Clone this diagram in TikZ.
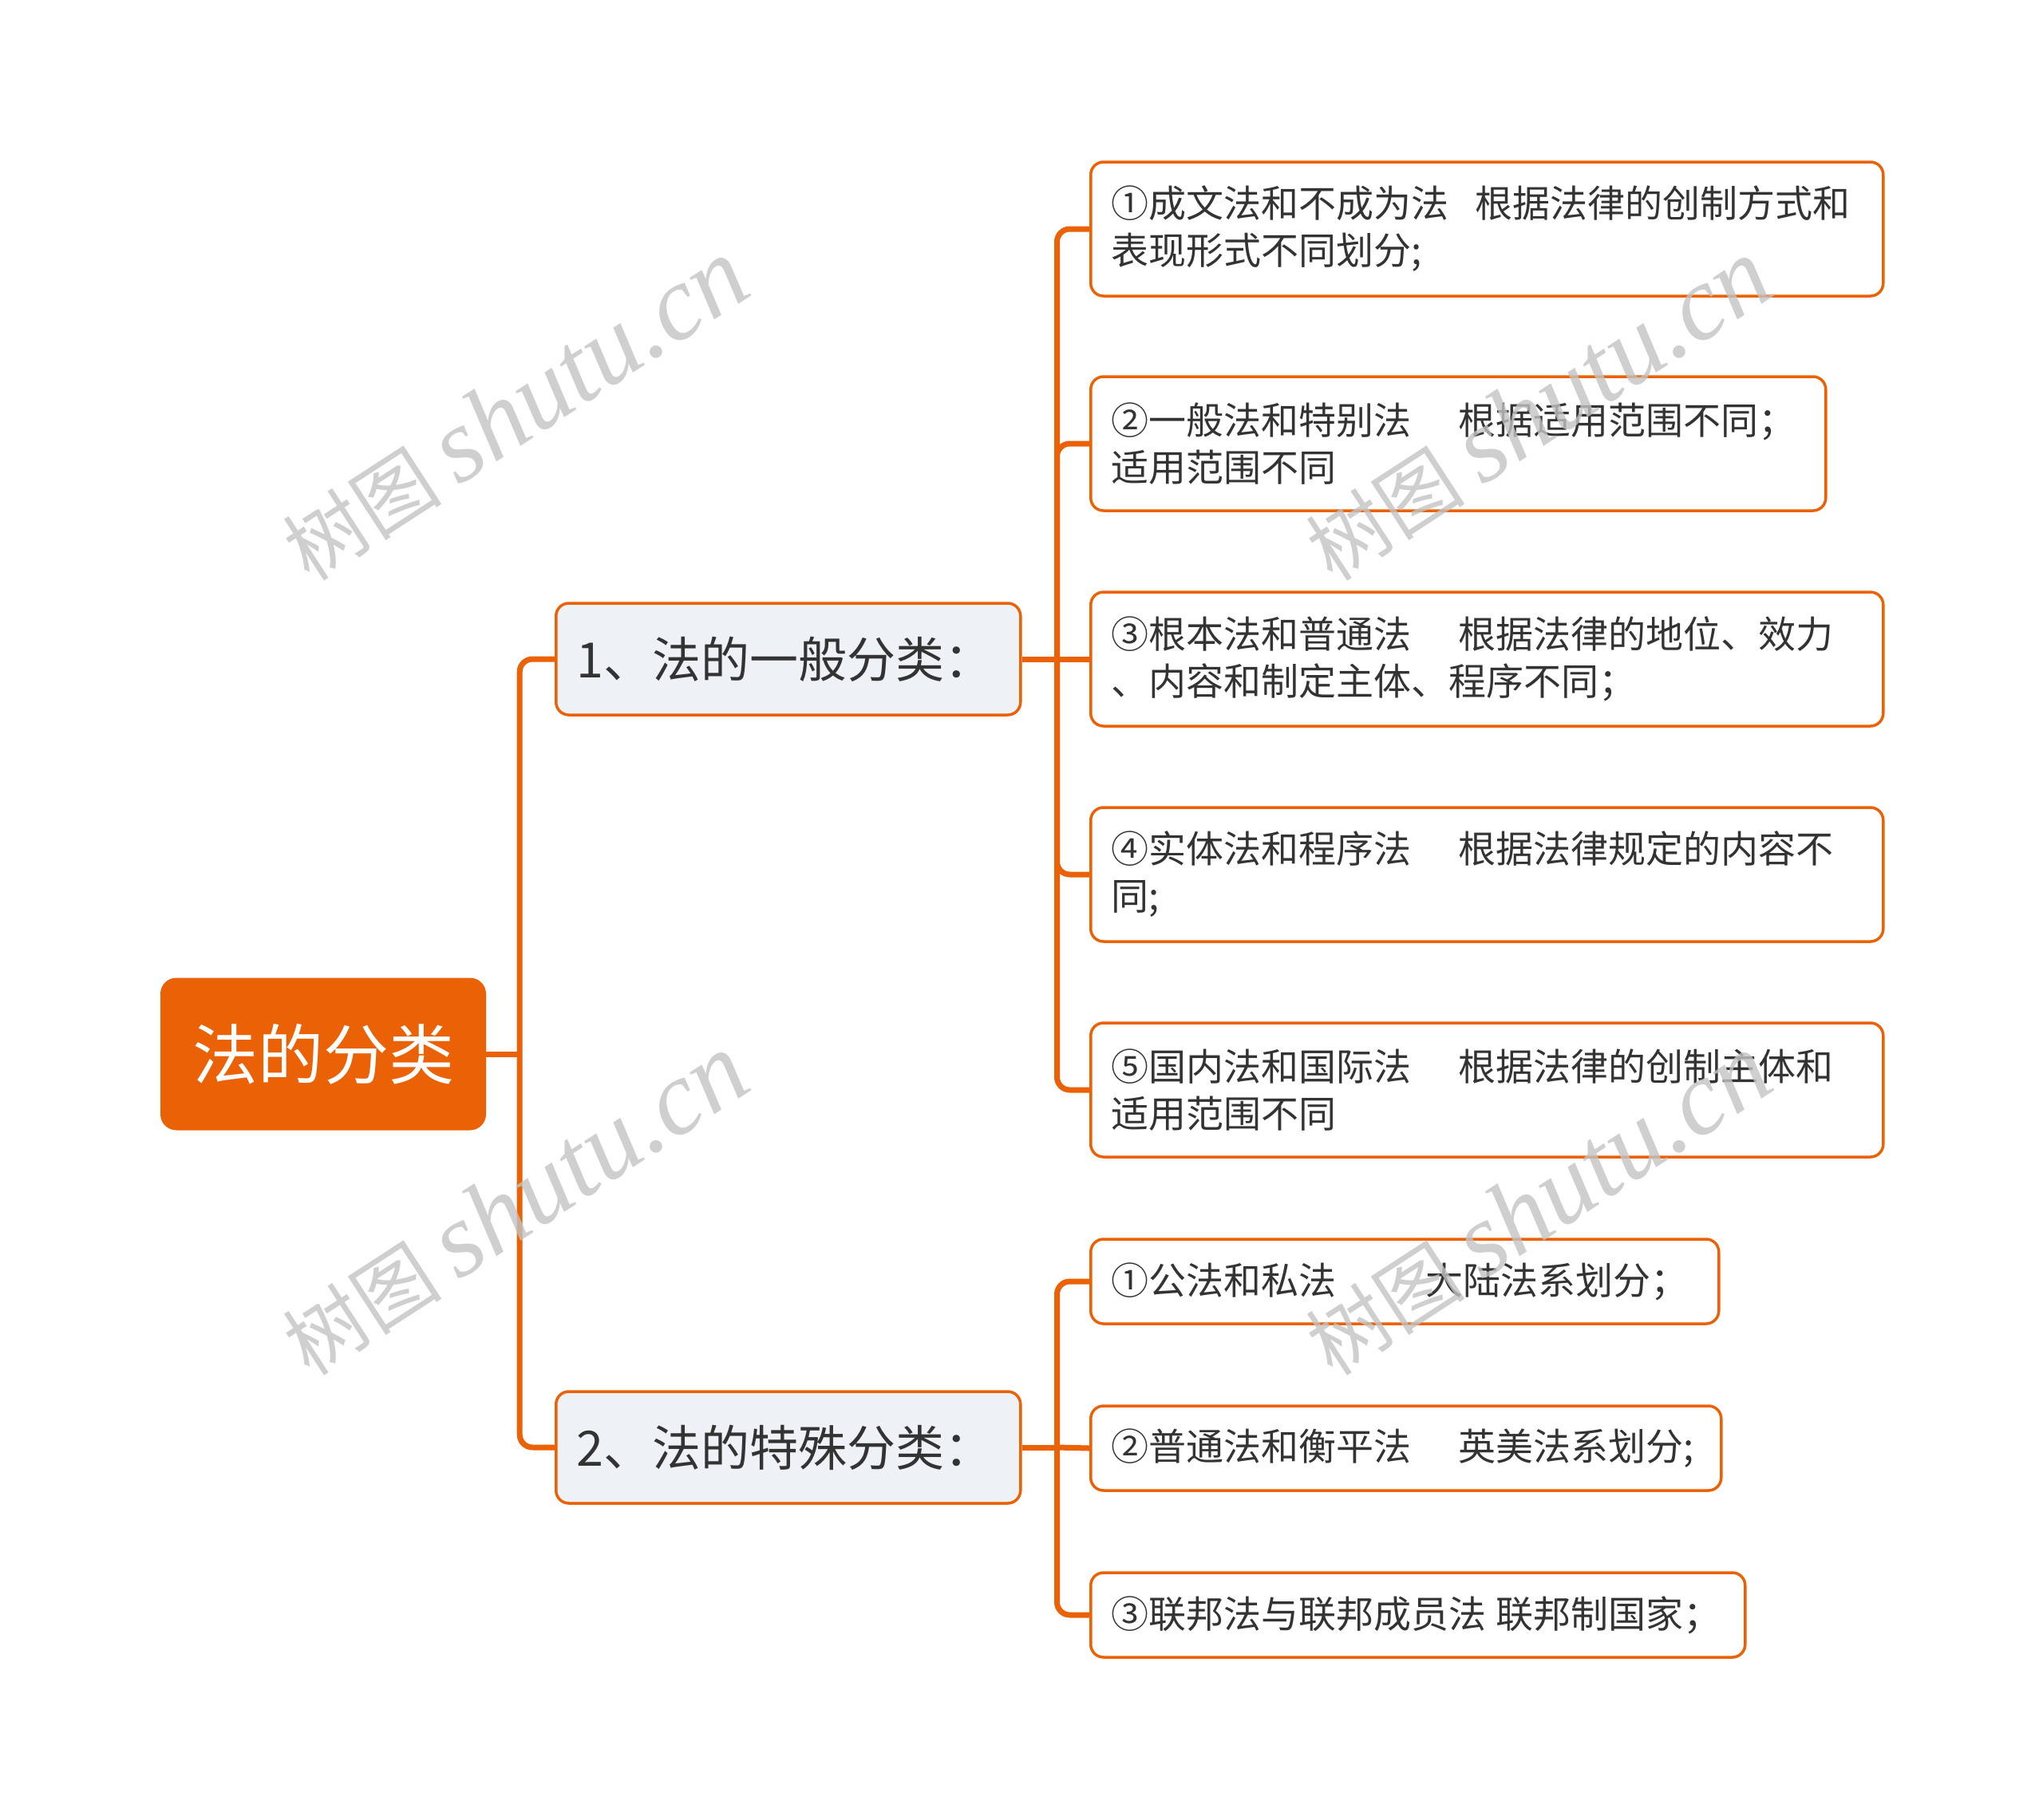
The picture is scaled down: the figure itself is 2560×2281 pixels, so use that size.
\documentclass[tikz,border=0pt]{standalone}
\usepackage{fontspec}
\setmainfont{Noto Sans CJK SC}
\newfontfamily\wmlatin{Liberation Serif}
\definecolor{brand}{RGB}{235,97,5}
\definecolor{lvlfill}{RGB}{238,241,245}
\definecolor{txt}{RGB}{51,51,51}
\definecolor{wmgray}{RGB}{195,195,195}
\begin{document}
\begin{tikzpicture}[x=1pt,y=-1pt,
  rootbox/.style={fill=brand, draw=none, rounded corners=20pt, text=white,
    minimum width=408pt, minimum height=191pt, inner sep=0pt,
    font=\fontsize{82}{98}\selectfont},
  lvlbox/.style={draw=brand, line width=3.5pt, fill=lvlfill, rounded corners=16pt,
    text=txt, text width=530pt, inner xsep=26pt, inner ysep=0pt,
    minimum height=140pt, align=left, font=\fontsize{61}{72}\selectfont},
  leafbox/.style={draw=brand, line width=3.5pt, fill=white, rounded corners=16pt,
    text=txt, inner xsep=26pt, inner ysep=0pt, align=left,
    font=\fontsize{47}{59}\selectfont},
  conn/.style={draw=brand, line width=7pt, rounded corners=16pt},
  wmark/.style={text=wmgray, opacity=0.8, rotate=33, inner sep=0pt,
    font=\fontsize{100}{120}\selectfont}
]
\useasboundingbox (0,0) rectangle (2560,2281);

% root
\node[rootbox] (root) at (405,1321) {法的分类};

% level 1
\node[lvlbox, anchor=west] (l1a) at (695,826) {1、法的一般分类：};
\node[lvlbox, anchor=west] (l1b) at (695,1814) {2、法的特殊分类：};

% leaves, group 1
\node[leafbox, anchor=west, text width=941pt, minimum height=168pt] (c1) at (1365,287)
  {①成文法和不成为法\kern33pt 根据法律的创制方式和\\表现形式不同划分;};
\node[leafbox, anchor=west, text width=869pt, minimum height=168pt] (c2) at (1365,556)
  {②一般法和特别法\kern59pt 根据适用范围不同；\\适用范围不同};
\node[leafbox, anchor=west, text width=941pt, minimum height=168pt] (c3) at (1365,826)
  {③根本法和普通法\kern59pt 根据法律的地位、效力\\、内容和制定主体、程序不同；};
\node[leafbox, anchor=west, text width=941pt, minimum height=168pt] (c4) at (1365,1096)
  {④实体法和程序法\kern59pt 根据法律规定的内容不\\同;};
\node[leafbox, anchor=west, text width=941pt, minimum height=168pt] (c5) at (1365,1366)
  {⑤国内法和国际法\kern59pt 根据法律的创制主体和\\适用范围不同};

% leaves, group 2
\node[leafbox, anchor=west, text width=735pt, minimum height=106pt] (d1) at (1365,1606)
  {①公法和私法\kern112pt 大陆法系划分；};
\node[leafbox, anchor=west, text width=738pt, minimum height=106pt] (d2) at (1365,1815)
  {②普通法和衡平法\kern59pt 英美法系划分;};
\node[leafbox, anchor=west, text width=768pt, minimum height=106pt] (d3) at (1365,2024)
  {③联邦法与联邦成员法\kern12pt 联邦制国家；};

% connectors
\draw[conn] (root.east) -- ++(42,0) coordinate (j0);
\draw[conn] (j0) |- (l1a.west);
\draw[conn] (j0) |- (l1b.west);

\draw[conn] (l1a.east) -- ++(44,0) coordinate (ja);
\draw[conn] (ja) |- (c1.west);
\draw[conn] (ja) |- (c2.west);
\draw[conn] (ja) -- (c3.west);
\draw[conn] (ja) |- (c4.west);
\draw[conn] (ja) |- (c5.west);

\draw[conn] (l1b.east) -- ++(44,0) coordinate (jb);
\draw[conn] (jb) |- (d1.west);
\draw[conn] (jb) -- (d2.west);
\draw[conn] (jb) |- (d3.west);

% watermarks
\node[wmark] (w1) at (645,514) {树图 {\wmlatin\itshape\fontsize{132}{140}\selectfont shutu.cn}};
\node[wmark] (w2) at (1927,514) {树图 {\wmlatin\itshape\fontsize{132}{140}\selectfont shutu.cn}};
\node[wmark] (w3) at (645,1510) {树图 {\wmlatin\itshape\fontsize{132}{140}\selectfont shutu.cn}};
\node[wmark] (w4) at (1927,1510) {树图 {\wmlatin\itshape\fontsize{132}{140}\selectfont shutu.cn}};
\end{tikzpicture}
\end{document}
